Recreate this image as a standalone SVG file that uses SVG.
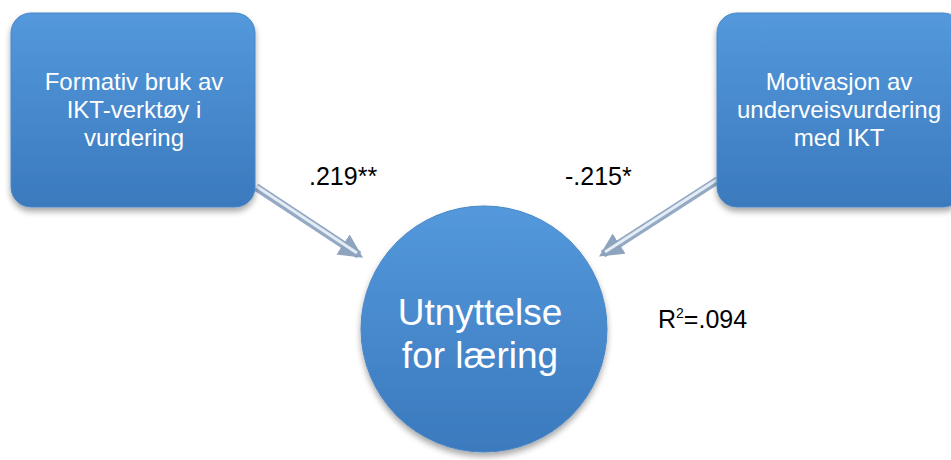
<svg xmlns="http://www.w3.org/2000/svg" width="951" height="460" viewBox="0 0 951 460">
  <defs>
    <linearGradient id="blue" x1="0" y1="0" x2="0" y2="1">
      <stop offset="0" stop-color="#5399dc"/>
      <stop offset="1" stop-color="#3b79bd"/>
    </linearGradient>
    <filter id="shadow" x="-10%" y="-10%" width="130%" height="130%">
      <feGaussianBlur in="SourceAlpha" stdDeviation="3"/>
      <feOffset dx="0" dy="4" result="b"/>
      <feComponentTransfer><feFuncA type="linear" slope="0.35"/></feComponentTransfer>
      <feMerge><feMergeNode/><feMergeNode in="SourceGraphic"/></feMerge>
    </filter>
    <marker id="head" viewBox="0 0 10 10" refX="8" refY="5" markerWidth="3" markerHeight="3" orient="auto" markerUnits="strokeWidth">
      <path d="M0,0 L10,5 L0,10 Z" fill="#8ea3bd"/>
    </marker>
  </defs>
  <style>
    .node { fill: url(#blue); stroke: #4a86c6; stroke-width: 1; filter: url(#shadow); }
    .ntext { font-family: "Liberation Sans", Arial, sans-serif; font-size: 24px; fill: #ffffff; text-anchor: middle; }
    .ctext { font-family: "Liberation Sans", Arial, sans-serif; font-size: 37px; fill: #ffffff; text-anchor: middle; }
    .label { font-family: "Liberation Sans", Arial, sans-serif; font-size: 25px; fill: #000000; }
    .shaft { stroke: #93a9c4; stroke-width: 8; stroke-linecap: butt; fill: none; }
    .shine { stroke: #e4ecf5; stroke-width: 3; fill: none; }
  </style>

  <g id="connectors">
    <g id="arrow-left">
      <line class="shaft" x1="256" y1="187" x2="359" y2="255" marker-end="url(#head)"/>
      <line class="shine" x1="256" y1="186" x2="357" y2="253"/>
    </g>
    <g id="arrow-right">
      <line class="shaft" x1="718" y1="180" x2="603" y2="254" marker-end="url(#head)"/>
      <line class="shine" x1="718" y1="179" x2="605" y2="252"/>
    </g>
  </g>

  <g id="node-formativ">
    <rect class="node" x="11" y="13" width="244" height="194" rx="20" ry="20"/>
    <text class="ntext" x="134" y="90">Formativ bruk av</text>
    <text class="ntext" x="134" y="118">IKT-verktøy i</text>
    <text class="ntext" x="134" y="146">vurdering</text>
  </g>

  <g id="node-motivasjon">
    <rect class="node" x="717" y="13" width="246" height="194" rx="20" ry="20"/>
    <text class="ntext" x="839" y="90">Motivasjon av</text>
    <text class="ntext" x="839" y="118">underveisvurdering</text>
    <text class="ntext" x="839" y="146">med IKT</text>
  </g>

  <g id="node-utnyttelse">
    <circle class="node" cx="484" cy="329" r="123"/>
    <text class="ctext" x="480" y="325">Utnyttelse</text>
    <text class="ctext" x="480" y="368">for læring</text>
  </g>

  <g id="labels">
    <text class="label" x="309" y="185">.219**</text>
    <text class="label" x="565" y="185">-.215*</text>
    <text class="label" x="658" y="328" font-size="21">R<tspan dy="-10" font-size="14">2</tspan><tspan dy="10">=.094</tspan></text>
  </g>
</svg>
